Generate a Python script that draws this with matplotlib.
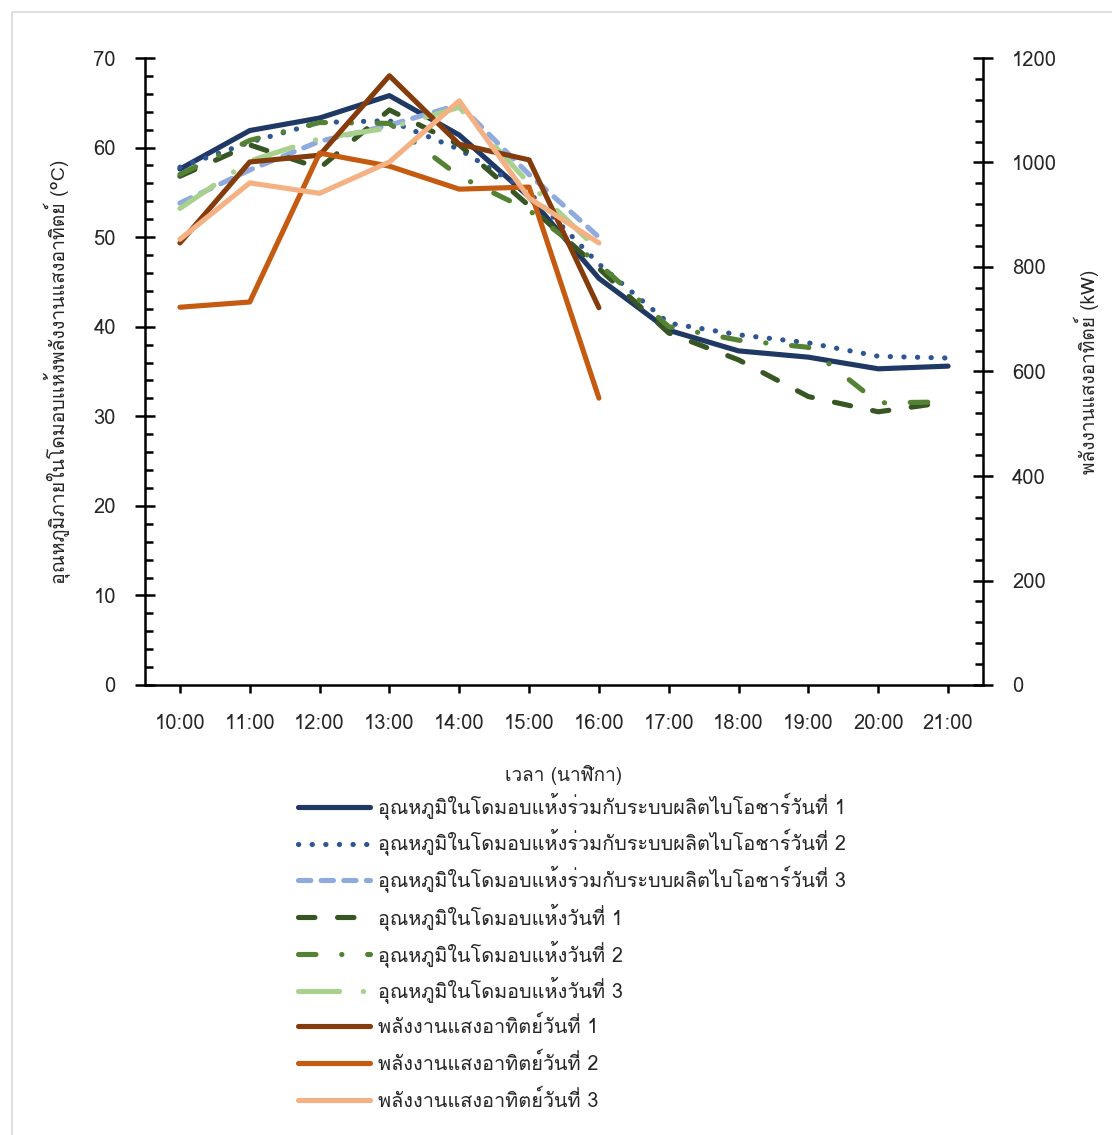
import matplotlib
matplotlib.use("Agg")
import matplotlib.pyplot as plt
from matplotlib import font_manager
from matplotlib.ft2font import FT2Font
from matplotlib.patches import Rectangle

# ---- pick a font that covers Thai ----
thai_font = None
for f in font_manager.fontManager.ttflist:
    try:
        cm = FT2Font(f.fname).get_charmap()
        if 0x0E2D in cm and 0x0E38 in cm:
            thai_font = f.name
            break
    except Exception:
        pass
fams = ([thai_font] if thai_font else []) + ["DejaVu Sans"]
plt.rcParams['font.family'] = fams

# ---- data ----
times = ["10:00", "11:00", "12:00", "13:00", "14:00", "15:00", "16:00",
         "17:00", "18:00", "19:00", "20:00", "21:00"]

bio_day1 = [57.6, 61.9, 63.3, 65.8, 61.4, 54.5, 45.4, 39.6, 37.3, 36.6, 35.3, 35.6]
bio_day2 = [57.8, 60.6, 62.8, 63.0, 59.8, 55.0, 47.0, 40.4, 39.1, 38.2, 36.7, 36.5]
bio_day3 = [53.8, 57.5, 60.7, 62.5, 64.8, 57.0, 50.0]
dry_day1 = [56.8, 60.3, 57.7, 64.2, 60.3, 53.5, 46.5, 39.3, 36.3, 32.2, 30.5, 31.6]
dry_day2 = [57.0, 60.8, 62.8, 62.7, 56.8, 53.0, 47.0, 40.0, 38.5, 37.7, 31.5, 31.6]
dry_day3 = [53.2, 58.5, 61.0, 62.2, 64.5, 56.0, 48.5]
solar_day1 = [846, 1001, 1014, 1166, 1035, 1005, 722]
solar_day2 = [723, 733, 1018, 993, 949, 953, 549]
solar_day3 = [853, 961, 941, 1001, 1118, 932, 846]

labels = [
    "อุณหภูมิในโดมอบแห้งร่วมกับระบบผลิตไบโอชาร์วันที่ 1",
    "อุณหภูมิในโดมอบแห้งร่วมกับระบบผลิตไบโอชาร์วันที่ 2",
    "อุณหภูมิในโดมอบแห้งร่วมกับระบบผลิตไบโอชาร์วันที่ 3",
    "อุณหภูมิในโดมอบแห้งวันที่ 1",
    "อุณหภูมิในโดมอบแห้งวันที่ 2",
    "อุณหภูมิในโดมอบแห้งวันที่ 3",
    "พลังงานแสงอาทิตย์วันที่ 1",
    "พลังงานแสงอาทิตย์วันที่ 2",
    "พลังงานแสงอาทิตย์วันที่ 3",
]

# ---- figure ----
W, H = 1112, 1135
fig = plt.figure(figsize=(W / 100, H / 100), dpi=100)
fig.patches.append(Rectangle((12 / W, -0.01), 1.02, 1 - 12 / H + 0.01,
                             transform=fig.transFigure, fill=False,
                             edgecolor="#d9d9d9", linewidth=1.2))

L, R = 145 / W, 983 / W
B, T = 1 - 685 / H, 1 - 58 / H
ax = fig.add_axes([L, B, R - L, T - B])
ax2 = ax.twinx()

lw = 3.7
x_all = list(range(len(times)))
x7 = x_all[:7]

common = dict(linewidth=lw, solid_capstyle="round", dash_capstyle="round")
h = []
h += ax.plot(x_all, bio_day1, color="#1F3864", **common)
h += ax.plot(x_all, bio_day2, color="#2F5597", linestyle=(0, (0.05, 2.6)), **common)
h += ax.plot(x7, bio_day3, color="#8FAADC", linestyle=(0, (2.4, 2.0)), **common)
h += ax.plot(x_all, dry_day1, color="#375623", linestyle=(0, (3.2, 4.4)), **common)
h += ax.plot(x_all, dry_day2, color="#548235", linestyle=(0, (3.4, 5.0, 0.05, 5.0)), **common)
h += ax.plot(x7, dry_day3, color="#A9D18E", linestyle=(0, (8.0, 4.6, 0.05, 4.6)), **common)
h += ax2.plot(x7, solar_day1, color="#843C0C", **common)
h += ax2.plot(x7, solar_day2, color="#C55A11", **common)
h += ax2.plot(x7, solar_day3, color="#F4B183", **common)

fs = 14.5
txtc = "#262626"
ax.set_xlim(-0.5, 11.5)
ax.set_ylim(0, 70)
ax2.set_ylim(0, 1200)
ax.set_xticks(x_all)
ax.set_xticklabels(times, fontsize=fs, color=txtc)
ax.set_yticks(range(0, 71, 10))
ax.set_yticks(range(0, 71, 2), minor=True)
ax2.set_yticks(range(0, 1201, 200))
ax2.set_yticks(range(0, 1201, 40), minor=True)

for a in (ax, ax2):
    a.spines["top"].set_visible(False)
    for s in a.spines.values():
        s.set_linewidth(1.8)
ax.spines["right"].set_visible(False)
ax2.spines["left"].set_visible(False)
ax2.spines["bottom"].set_visible(False)

ax.tick_params(axis="y", which="major", direction="inout", length=14, width=1.8,
               labelsize=fs, labelcolor=txtc, pad=14)
ax.tick_params(axis="y", which="minor", direction="in", length=6, width=1.8)
ax2.tick_params(axis="y", which="major", direction="inout", length=14, width=1.8,
                labelsize=fs, labelcolor=txtc, pad=14)
ax2.tick_params(axis="y", which="minor", direction="in", length=6, width=1.8)
ax.tick_params(axis="x", which="major", direction="out", length=6, width=1.8, pad=15)

ax.set_ylabel("อุณหภูมิภายในโดมอบแห้งพลังงานแสงอาทิตย์ (°C)", fontsize=14, color=txtc, labelpad=16)
ax2.set_ylabel("พลังงานแสงอาทิตย์ (kW)", fontsize=13.7, color=txtc, labelpad=12)
ax.set_xlabel("เวลา (นาฬิกา)", fontsize=13.7, color=txtc, labelpad=23)

# legend: one entry per row at fixed spacing
row0, step = 806, 36.8
for i, (hd, lb) in enumerate(zip(h, labels)):
    lg = fig.legend([hd], [lb], loc="center left",
                    bbox_to_anchor=(298 / W, 1 - (row0 + i * step) / H),
                    frameon=False, fontsize=14.3, handlelength=3.6, handletextpad=0.42,
                    borderaxespad=0, borderpad=0)
    for t in lg.get_texts():
        t.set_color(txtc)

fig.savefig("out.png", dpi=100)
